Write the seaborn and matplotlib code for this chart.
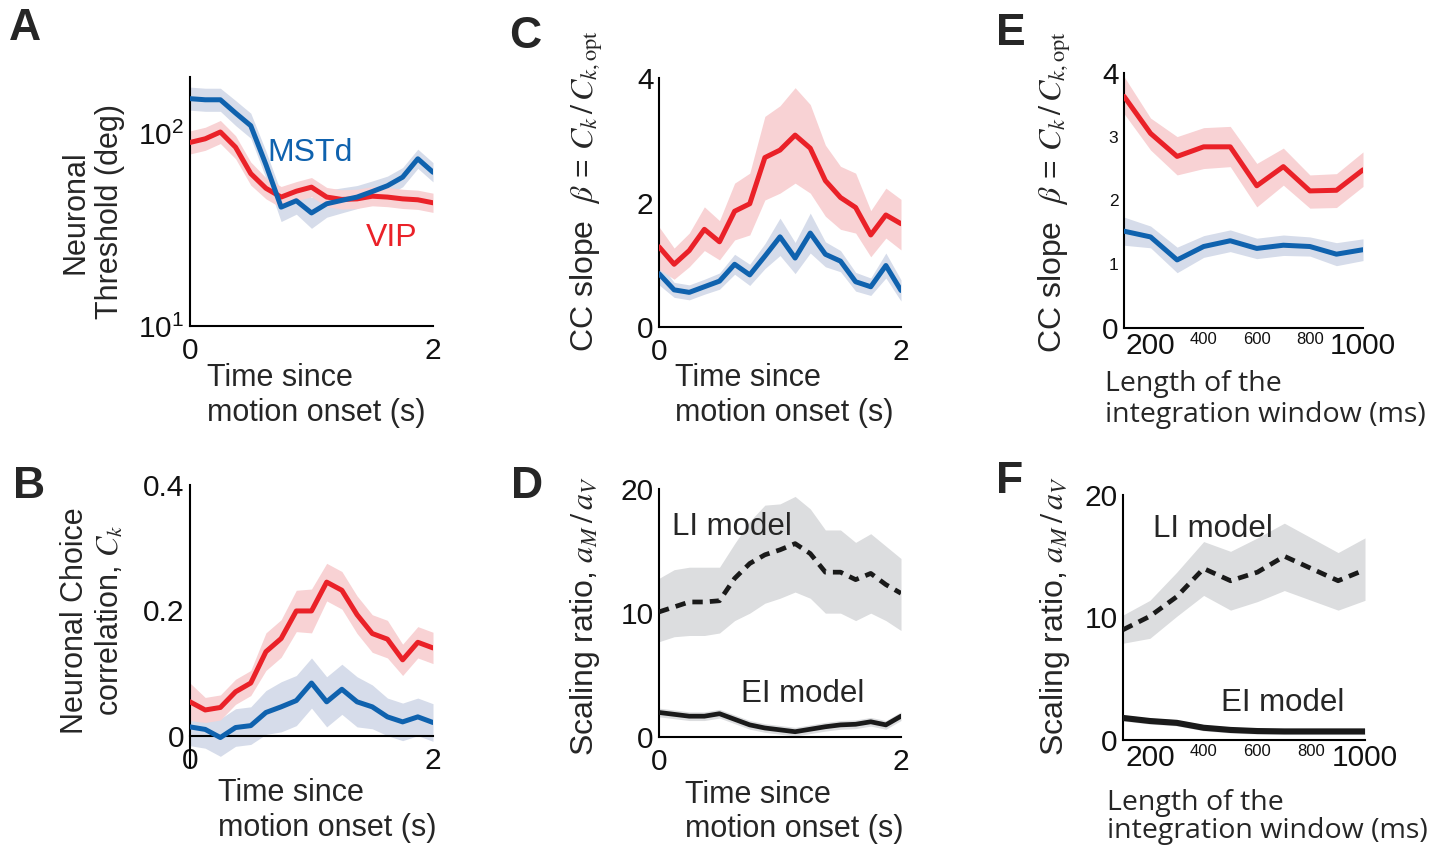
import numpy as np
import matplotlib
matplotlib.use("Agg")
import matplotlib.pyplot as plt
import matplotlib.ticker as mticker
import seaborn as sns

sns.set_theme(style="white")
plt.rcParams["font.family"] = ["Liberation Sans", "DejaVu Sans"]
plt.rcParams["mathtext.fontset"] = "stix"

# ---------------- data ----------------
t = [0, 0.125, 0.25, 0.375, 0.5, 0.625, 0.75, 0.875, 1.0, 1.125, 1.25, 1.375, 1.5, 1.625, 1.75, 1.875, 2.0]
win = [100, 200, 300, 400, 500, 600, 700, 800, 900, 1000]

# A: neuronal threshold (deg)
thr_mstd = [152, 150, 150, 128, 110, 69, 41.5, 44.8, 38.7, 43.2, 45, 46.8, 50, 53.6, 59.4, 74, 63]
thr_mstd_err = [0.06, 0.06, 0.06, 0.065, 0.065, 0.07, 0.075, 0.07, 0.08, 0.07, 0.065, 0.06, 0.055, 0.05, 0.05, 0.05, 0.05]
thr_vip = [90, 94, 102, 85, 62, 52, 46.8, 50.2, 52.7, 46.8, 45.5, 45.8, 47.3, 46.8, 45.8, 45.3, 43.7]
thr_vip_err = [0.06, 0.06, 0.06, 0.06, 0.06, 0.055, 0.055, 0.05, 0.05, 0.05, 0.05, 0.05, 0.05, 0.05, 0.05, 0.05, 0.05]

# B: choice correlation
cc_vip = [0.054, 0.041, 0.045, 0.070, 0.084, 0.134, 0.155, 0.199, 0.199, 0.245, 0.232, 0.193, 0.163, 0.154, 0.121, 0.149, 0.140]
cc_vip_err = [0.03, 0.02, 0.02, 0.02, 0.02, 0.03, 0.03, 0.033, 0.035, 0.03, 0.03, 0.03, 0.03, 0.03, 0.025, 0.025, 0.025]
cc_mstd = [0.014, 0.010, -0.003, 0.013, 0.016, 0.037, 0.046, 0.056, 0.084, 0.054, 0.074, 0.054, 0.046, 0.030, 0.022, 0.030, 0.021]
cc_mstd_err = [0.03, 0.03, 0.03, 0.03, 0.03, 0.035, 0.04, 0.04, 0.04, 0.04, 0.04, 0.04, 0.035, 0.03, 0.03, 0.03, 0.03]

# C: CC slope vs time
sl_vip = [1.29, 1.01, 1.23, 1.57, 1.37, 1.86, 1.98, 2.72, 2.84, 3.08, 2.87, 2.35, 2.08, 1.92, 1.48, 1.80, 1.66]
sl_vip_lo = [0.93, 0.77, 0.97, 1.23, 1.08, 1.40, 1.48, 2.04, 2.15, 2.31, 2.15, 1.78, 1.57, 1.51, 1.13, 1.43, 1.24]
sl_vip_hi = [1.61, 1.27, 1.51, 1.93, 1.71, 2.31, 2.47, 3.38, 3.55, 3.84, 3.57, 2.92, 2.58, 2.47, 1.87, 2.23, 2.05]
sl_mstd = [0.86, 0.60, 0.56, 0.65, 0.74, 1.01, 0.84, 1.14, 1.45, 1.11, 1.51, 1.17, 1.06, 0.73, 0.65, 0.99, 0.59]
sl_mstd_err = [0.18, 0.12, 0.12, 0.12, 0.13, 0.16, 0.17, 0.2, 0.3, 0.25, 0.32, 0.2, 0.17, 0.15, 0.14, 0.2, 0.17]

# D: scaling ratio vs time
li_t = [10.1, 10.5, 10.9, 10.9, 11.0, 12.8, 14.0, 14.7, 15.1, 15.6, 14.8, 13.3, 13.3, 12.7, 13.2, 12.3, 11.6]
li_t_lo = [7.7, 8.1, 8.2, 8.2, 8.4, 9.4, 10.0, 10.8, 11.2, 11.7, 11.2, 10.0, 10.0, 9.4, 10.0, 9.4, 8.6]
li_t_hi = [12.8, 13.5, 13.7, 13.7, 13.7, 15.6, 17.4, 18.7, 18.8, 19.4, 18.4, 16.7, 16.7, 15.7, 16.4, 15.4, 14.4]
ei_t = [2.0, 1.85, 1.7, 1.7, 1.9, 1.45, 1.0, 0.75, 0.6, 0.45, 0.65, 0.85, 1.0, 1.05, 1.25, 1.0, 1.7]

# E: CC slope vs window length
slw_vip = [3.63, 3.05, 2.69, 2.84, 2.84, 2.23, 2.53, 2.15, 2.16, 2.48]
slw_vip_lo = [3.36, 2.79, 2.40, 2.50, 2.53, 1.90, 2.24, 1.88, 1.89, 2.22]
slw_vip_hi = [3.94, 3.29, 3.00, 3.14, 3.16, 2.58, 2.82, 2.40, 2.42, 2.76]
slw_mstd = [1.52, 1.43, 1.07, 1.28, 1.37, 1.25, 1.30, 1.28, 1.16, 1.23]
slw_mstd_err = [0.22, 0.17, 0.2, 0.17, 0.17, 0.16, 0.16, 0.15, 0.18, 0.17]

# F: scaling ratio vs window length
li_w = [9.0, 10.1, 11.7, 14.0, 13.0, 13.7, 15.0, 14.0, 13.0, 13.9]
li_w_lo = [7.9, 8.3, 10.1, 11.8, 10.6, 11.3, 12.2, 11.4, 10.6, 11.4]
li_w_hi = [10.2, 11.4, 13.7, 16.2, 15.4, 16.5, 17.7, 16.5, 15.3, 16.5]
ei_w = [1.8, 1.55, 1.4, 1.0, 0.82, 0.73, 0.7, 0.7, 0.7, 0.7]

# ---------------- style ----------------
RED = "#EA2128"
BLUE = "#0F62AE"
RED_BAND = "#F8D2D4"
BLUE_BAND = "#D6DCEA"
GRAY_BAND = "#DCDDDF"
LW = 3.6
TICK_FS = 21.5
LAB_FS = 22
SPINE_LW = 1.5

fig = plt.figure(figsize=(14.49, 8.49), dpi=100)
W, H = 1449, 849


def add_ax(l, r, t_, b):
    return fig.add_axes([l / W, 1 - b / H, (r - l) / W, (b - t_) / H])


def style(ax):
    for s in ("top", "right"):
        ax.spines[s].set_visible(False)
    for s in ("left", "bottom"):
        ax.spines[s].set_linewidth(SPINE_LW)
        ax.spines[s].set_color("black")
    ax.tick_params(axis="both", which="both", direction="in", color="black",
                   width=SPINE_LW, labelsize=TICK_FS, labelcolor="#111111")
    ax.tick_params(axis="y", which="major", length=7, pad=4)
    ax.tick_params(axis="y", which="minor", length=5)
    ax.tick_params(axis="x", which="major", length=0, pad=8)
    ax.set_facecolor("none")


def band(ax, x, lo, hi, color):
    ax.fill_between(x, lo, hi, color=color, linewidth=0, zorder=1)


def line(ax, x, y, color, lw=LW, ls="-"):
    sns.lineplot(x=x, y=y, ax=ax, color=color, linewidth=lw, linestyle=ls,
                 zorder=3, legend=False, errorbar=None)


def xlab(ax, text, x, y, family=None, size=LAB_FS, ls=1.2):
    kw = {}
    if family:
        kw["family"] = family
    ax.set_xlabel(text, fontsize=size, ha="left", multialignment="left", linespacing=ls, **kw)
    ax.xaxis.set_label_coords(x, y)


def ylab(ax, text, x, y, size=LAB_FS):
    ax.set_ylabel(text, fontsize=size, multialignment="center")
    ax.yaxis.set_label_coords(x, y)


tt = np.array(t)
ww = np.array(win)

BETA = r"CC slope  $\beta$ = $C_k\,/\,C_{k,\mathrm{opt}}$"
SCALE = r"Scaling ratio, $a_M\,/\,a_V$"

# ---- A ----
axA = add_ax(190, 433, 77, 326)
style(axA)
axA.set_yscale("log")
band(axA, tt, np.array(thr_mstd) / 10 ** np.array(thr_mstd_err), np.array(thr_mstd) * 10 ** np.array(thr_mstd_err), BLUE_BAND)
band(axA, tt, np.array(thr_vip) / 10 ** np.array(thr_vip_err), np.array(thr_vip) * 10 ** np.array(thr_vip_err), RED_BAND)
line(axA, tt, thr_vip, RED)
line(axA, tt, thr_mstd, BLUE)
axA.set_xlim(0, 2)
axA.set_ylim(10, 197)
axA.set_xticks([0, 2])
axA.set_xticklabels(["0", "2"])
axA.set_yticks([10, 100])
axA.yaxis.set_major_formatter(mticker.LogFormatterSciNotation())
axA.yaxis.set_minor_locator(mticker.LogLocator(base=10, subs=np.arange(2, 10)))
axA.yaxis.set_minor_formatter(mticker.NullFormatter())
axA.text(0.64, 79, "MSTd", color=BLUE, fontsize=23, va="center", ha="left")
axA.text(1.45, 28.8, "VIP", color=RED, fontsize=23, va="center", ha="left")
xlab(axA, "Time since\nmotion onset (s)", 0.07, -0.15)
ylab(axA, "Neuronal\nThreshold (deg)", -0.267, 0.458)

# ---- B ----
axB = add_ax(190, 433, 485, 767)
style(axB)
band(axB, tt, np.array(cc_mstd) - np.array(cc_mstd_err), np.array(cc_mstd) + np.array(cc_mstd_err), BLUE_BAND)
band(axB, tt, np.array(cc_vip) - np.array(cc_vip_err), np.array(cc_vip) + np.array(cc_vip_err), RED_BAND)
line(axB, tt, cc_vip, RED)
line(axB, tt, cc_mstd, BLUE)
axB.set_xlim(0, 2)
axB.set_ylim(-0.05, 0.4)
axB.spines["bottom"].set_position(("data", 0))
axB.set_xticks([0, 2])
axB.set_xticklabels(["0", "2"])
axB.set_yticks([0, 0.2, 0.4])
axB.set_yticklabels(["0", "0.2", "0.4"])
xlab(axB, "Time since\nmotion onset (s)", 0.115, -0.04)
ylab(axB, "Neuronal Choice\ncorrelation, $C_k$", -0.263, 0.52)

# ---- C ----
axC = add_ax(659, 901, 77.7, 327.3)
style(axC)
band(axC, tt, np.array(sl_mstd) - np.array(sl_mstd_err), np.array(sl_mstd) + np.array(sl_mstd_err), BLUE_BAND)
band(axC, tt, sl_vip_lo, sl_vip_hi, RED_BAND)
line(axC, tt, sl_vip, RED)
line(axC, tt, sl_mstd, BLUE)
axC.set_xlim(0, 2)
axC.set_ylim(0, 4)
axC.set_xticks([0, 2])
axC.set_xticklabels(["0", "2"])
axC.set_yticks([0, 2, 4])
xlab(axC, "Time since\nmotion onset (s)", 0.066, -0.145)
ylab(axC, BETA, -0.223, 0.545, size=23)

# ---- D ----
axD = add_ax(659, 901, 489, 737.3)
style(axD)
band(axD, tt, li_t_lo, li_t_hi, GRAY_BAND)
band(axD, tt, np.array(ei_t) - 0.35, np.array(ei_t) + 0.35, GRAY_BAND)
line(axD, tt, li_t, "#1a1a1a", lw=3.4, ls=(0, (2.2, 1.5)))
line(axD, tt, ei_t, "#1a1a1a", lw=3.4)
axD.set_xlim(0, 2)
axD.set_ylim(0, 20)
axD.set_xticks([0, 2])
axD.set_xticklabels(["0", "2"])
axD.set_yticks([0, 10, 20])
axD.text(0.105, 16.9, "LI model", fontsize=LAB_FS + 0.5, va="center", ha="left")
axD.text(0.68, 3.5, "EI model", fontsize=LAB_FS + 0.5, va="center", ha="left")
xlab(axD, "Time since\nmotion onset (s)", 0.107, -0.17)
ylab(axD, SCALE, -0.237, 0.49, size=23)

# ---- E ----
axE = add_ax(1124, 1363, 72.7, 328.3)
style(axE)
band(axE, ww, np.array(slw_mstd) - np.array(slw_mstd_err), np.array(slw_mstd) + np.array(slw_mstd_err), BLUE_BAND)
band(axE, ww, slw_vip_lo, slw_vip_hi, RED_BAND)
line(axE, ww, slw_vip, RED)
line(axE, ww, slw_mstd, BLUE)
axE.set_xlim(100, 1000)
axE.set_ylim(0, 4)
axE.set_yticks([0, 1, 2, 3, 4])
axE.set_xticks([200, 400, 600, 800, 1000])
axE.tick_params(axis="x", which="major", length=5, pad=3)
for lbl in axE.get_xticklabels():
    if lbl.get_text() in ("400", "600", "800"):
        lbl.set_fontsize(12)
for lbl in axE.get_yticklabels():
    if lbl.get_text() in ("1", "2", "3"):
        lbl.set_fontsize(12.5)
xlab(axE, "Length of the\nintegration window (ms)", -0.08, -0.165, family="Open Sans", size=20.5, ls=1.1)
ylab(axE, BETA, -0.213, 0.532, size=23)

# ---- F ----
axF = add_ax(1123, 1365, 495, 740)
style(axF)
band(axF, ww, li_w_lo, li_w_hi, GRAY_BAND)
band(axF, ww, np.array(ei_w) - 0.25, np.array(ei_w) + 0.25, GRAY_BAND)
line(axF, ww, li_w, "#1a1a1a", lw=3.4, ls=(0, (2.2, 1.5)))
line(axF, ww, ei_w, "#1a1a1a", lw=4.4)
axF.set_xlim(100, 1000)
axF.set_ylim(0, 20)
axF.set_yticks([0, 5, 10, 15, 20])
axF.set_yticklabels(["0", "", "10", "", "20"])
axF.set_xticks([200, 400, 600, 800, 1000])
axF.tick_params(axis="x", which="major", length=5, pad=3)
for lbl in axF.get_xticklabels():
    if lbl.get_text() in ("400", "600", "800"):
        lbl.set_fontsize(12)
axF.text(212, 17.2, "LI model", fontsize=LAB_FS + 0.5, va="center", ha="left")
axF.text(465, 3.0, "EI model", fontsize=LAB_FS + 0.5, va="center", ha="left")
xlab(axF, "Length of the\nintegration window (ms)", -0.066, -0.2, family="Open Sans", size=20.5, ls=1.0)
ylab(axF, SCALE, -0.212, 0.505, size=23)

# panel letters
for letter, x, y in [("A", 9, 8), ("B", 13, 466), ("C", 509, 16), ("D", 511, 466), ("E", 996, 13), ("F", 996, 461)]:
    fig.text(x / W, 1 - y / H, letter, fontsize=32, fontweight="bold", va="top", ha="left")

fig.savefig("out.png", dpi=100)
